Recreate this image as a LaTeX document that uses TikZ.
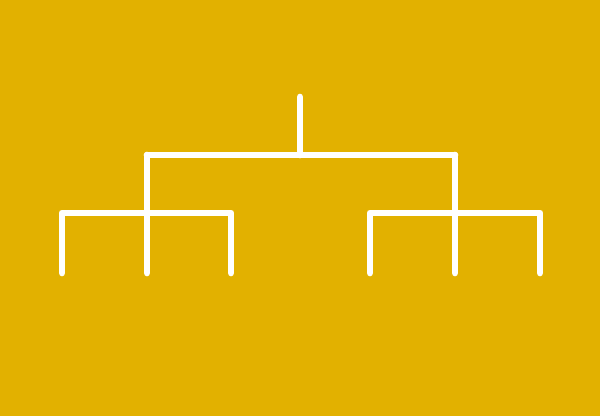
\documentclass[tikz,border=0pt]{standalone}
\definecolor{gold}{RGB}{226,177,0}
\tikzset{
	branch/.style={white, line width=3.8pt, line cap=round, line join=round}
}
\begin{document}
\begin{tikzpicture}[x=0.02cm, y=-0.02cm]
	%% Hintergrund
	\fill[gold] (0,0) rectangle (600,416);
	\useasboundingbox (0,0) rectangle (600,416);

	%% Knoten
	\coordinate (top) at (300,97);
	\coordinate (root) at (300,155);
	\coordinate (l) at (147,155);
	\coordinate (r) at (455,155);
	\coordinate (la) at (62,273);
	\coordinate (lb) at (147,273);
	\coordinate (lc) at (231,273);
	\coordinate (ra) at (370,273);
	\coordinate (rb) at (455,273);
	\coordinate (rc) at (540,273);

	%%%%%%%%%%%%%%%%

	%% Baum
	\draw[branch] (top) -- (root);
	\draw[branch] (l) -- (r);
	\draw[branch] (l) -- (lb);
	\draw[branch] (r) -- (rb);
	\draw[branch] (la) |- (lc |- 0,213) -- (lc);
	\draw[branch] (ra) |- (rc |- 0,213) -- (rc);
\end{tikzpicture}
\end{document}
